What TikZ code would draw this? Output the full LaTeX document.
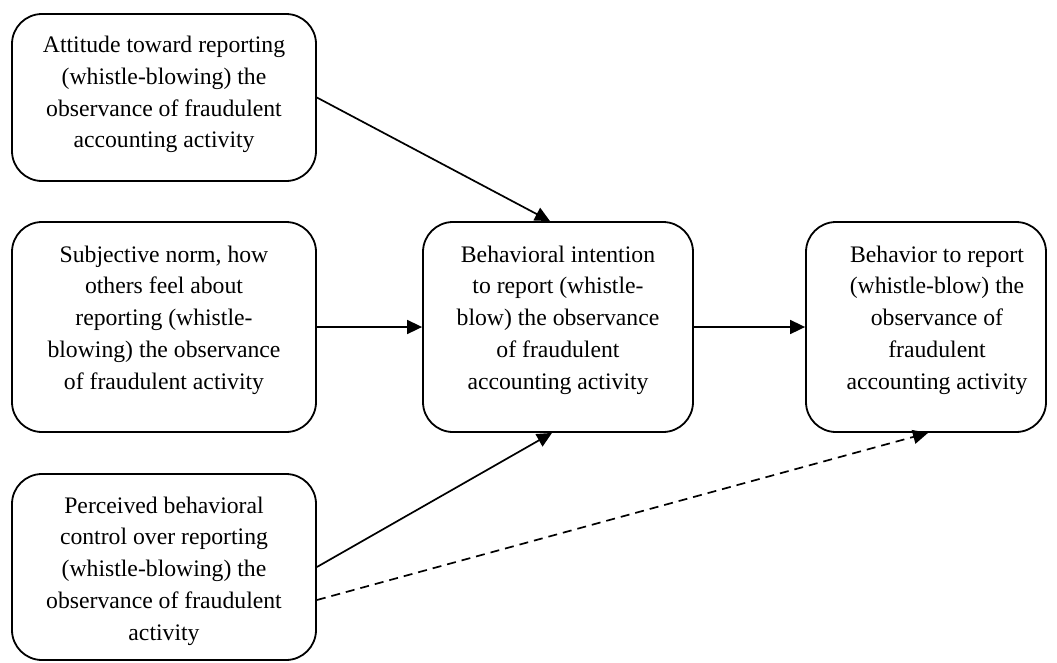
\documentclass[tikz,border=0pt]{standalone}
\usepackage{fontspec}
\setmainfont{Liberation Serif}
\usetikzlibrary{arrows.meta}
\begin{document}
\begin{tikzpicture}[x=1pt,y=-1pt,
  box/.style={draw, line width=1.8pt, rounded corners=30pt, inner sep=0pt},
  txt/.style={align=center, inner sep=0pt, font=\fontsize{23.7}{31.7}\selectfont},
  conn/.style={line width=1.7pt, -{Triangle[length=15pt,width=14pt]}},
  dconn/.style={conn, dash pattern=on 9pt off 6pt}]
\useasboundingbox (0,0) rectangle (1057,662);
% boxes
\node[box, minimum width=304pt, minimum height=167pt] (A) at (164,97.5) {};
\node[box, minimum width=304pt, minimum height=210pt] (B) at (164,327) {};
\node[box, minimum width=304pt, minimum height=186pt] (C) at (164,567) {};
\node[box, minimum width=270pt, minimum height=210pt] (D) at (558,327) {};
\node[box, minimum width=240pt, minimum height=210pt] (E) at (926,327) {};
% texts
\node[txt] (At) at (164,94.5) {Attitude toward reporting\\(whistle-blowing) the\\observance of fraudulent\\accounting activity};
\node[txt] (Bt) at (164,320) {Subjective norm, how\\others feel about\\reporting (whistle-\\blowing) the observance\\of fraudulent activity};
\node[txt] (Ct) at (164,571) {Perceived behavioral\\control over reporting\\(whistle-blowing) the\\observance of fraudulent\\activity};
\node[txt] (Dt) at (558,320) {Behavioral intention\\to report (whistle-\\blow) the observance\\of fraudulent\\accounting activity};
\node[txt] (Et) at (937,320) {Behavior to report\\(whistle-blow) the\\observance of\\fraudulent\\accounting activity};
% connectors
\draw[conn] (A.east) -- ([xshift=-8pt]D.north);
\draw[conn] (B.east) -- (D.west);
\draw[conn] (D.east) -- (E.west);
\draw[conn] (C.east) -- ([xshift=-6pt]D.south);
\draw[dconn] ([yshift=-33pt]C.east) -- ([xshift=2pt]E.south);
\end{tikzpicture}
\end{document}
